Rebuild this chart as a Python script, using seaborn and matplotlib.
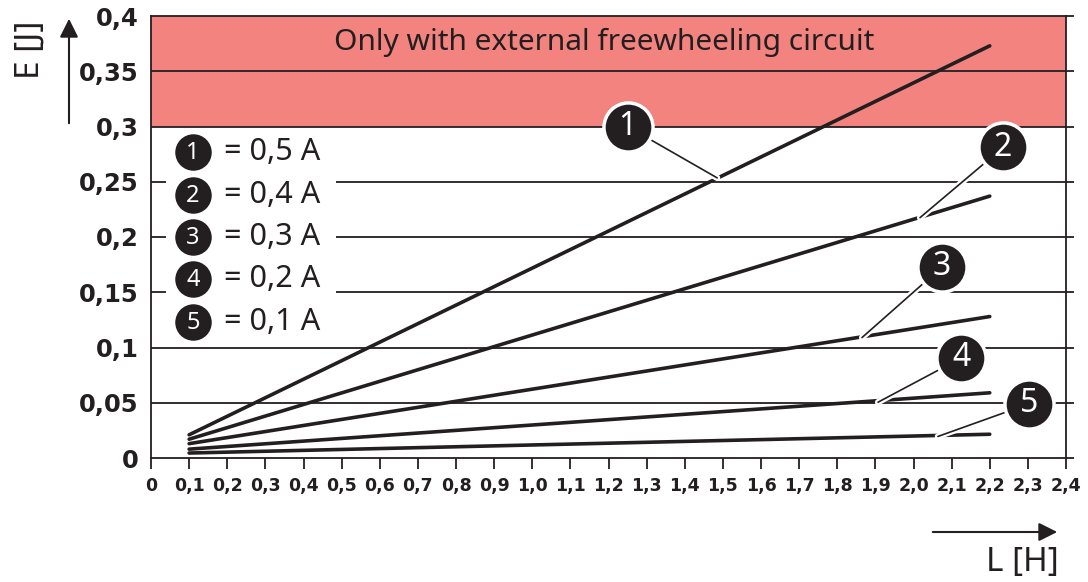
import matplotlib
matplotlib.use("Agg")
import matplotlib.pyplot as plt
import matplotlib.patheffects as pe
from matplotlib.patches import Rectangle, FancyArrowPatch
import seaborn as sns
import pandas as pd

# data
inductance = [0.1, 2.2]
curve_ids = ["1", "2", "3", "4", "5"]
currents = ["0,5 A", "0,4 A", "0,3 A", "0,2 A", "0,1 A"]
energy = {
    "1": [0.021, 0.373],
    "2": [0.017, 0.237],
    "3": [0.013, 0.128],
    "4": [0.008, 0.059],
    "5": [0.0045, 0.0215],
}
x_ticks = [i / 10 for i in range(25)]
x_labels = ["0"] + [f"{v:.1f}".replace(".", ",") for v in x_ticks[1:]]
y_ticks = [0, 0.05, 0.1, 0.15, 0.2, 0.25, 0.3, 0.35, 0.4]
y_labels = ["0", "0,05", "0,1", "0,15", "0,2", "0,25", "0,3", "0,35", "0,4"]

# callouts: (circle pos, point on curve)
callouts = {
    "1": ((1.25, 0.300), (1.485, 0.2535)),
    "2": ((2.235, 0.281), (2.017, 0.2175)),
    "3": ((2.075, 0.173), (1.865, 0.109)),
    "4": ((2.125, 0.0905), (1.907, 0.0505)),
    "5": ((2.303, 0.049), (2.064, 0.0195)),
}

rows = []
for cid in curve_ids:
    for L, E in zip(inductance, energy[cid]):
        rows.append({"curve": cid, "L": L, "E": E})
df = pd.DataFrame(rows)

sns.set_style("white")
plt.rcParams["font.family"] = ["Noto Sans", "DejaVu Sans"]

dark = "#231f20"
fig = plt.figure(figsize=(10.88, 5.82), dpi=100)
ax = fig.add_axes([151 / 1088, 124 / 582, 915 / 1088, 442 / 582])

ax.axhspan(0.3, 0.4, color="#f2837f", zorder=0, lw=0)
for y in y_ticks[1:-1]:
    ax.axhline(y, color=dark, lw=1.3, zorder=1)

sns.lineplot(data=df, x="L", y="E", hue="curve", palette=[dark] * 5,
             lw=2.6, legend=False, ax=ax, zorder=3)

ax.set_xlim(0, 2.4)
ax.set_ylim(0, 0.4)
ax.set_xticks(x_ticks)
ax.set_xticklabels(x_labels, fontsize=12.5, fontweight="bold",
                   family="DejaVu Sans")
ax.set_yticks(y_ticks)
ax.set_yticklabels(y_labels, fontsize=17.5, fontweight="bold",
                   family="DejaVu Sans")
ax.tick_params(axis="x", bottom=True, direction="out", length=8, width=1.3,
               color=dark, pad=6, labelcolor=dark)
ax.tick_params(axis="y", left=False, right=True, direction="out", length=6,
               width=1.3, color=dark, pad=3, labelcolor=dark)
ax.set_xlabel("")
ax.set_ylabel("")
for s in ax.spines.values():
    s.set_visible(True)
    s.set_color(dark)
    s.set_linewidth(1.3)

ax.text(1.19, 0.3765, "Only with external freewheeling circuit", ha="center",
        va="center", fontsize=21.5, color=dark, zorder=4)

# legend box
ax.add_patch(Rectangle((15 / 915, 118 / 442), 170 / 915, 207 / 442,
                       transform=ax.transAxes, facecolor="white",
                       edgecolor="none", zorder=2))
leg_y = [152, 195, 237, 279, 322]
for cid, cur, py in zip(curve_ids, currents, leg_y):
    yf = 1 - py / 582
    ax.scatter([193 / 1088], [yf], s=690, color=dark, lw=0,
               transform=fig.transFigure, clip_on=False, zorder=5)
    fig.text(193 / 1088, yf - 0.001, cid, ha="center", va="center",
             fontsize=17, color="white", zorder=6)
    fig.text(224 / 1088, yf, "= " + cur, ha="left", va="center",
             fontsize=22, color=dark)

# callouts
for cid in curve_ids:
    (cx, cy), (px, py) = callouts[cid]
    ax.plot([cx, px], [cy, py], color=dark, lw=1.2, zorder=4,
            path_effects=[pe.Stroke(linewidth=4.5, foreground="white"),
                          pe.Normal()])
    ax.scatter([cx], [cy], s=1250, color=dark, edgecolors="white",
               linewidths=2.5, zorder=5)
    ax.text(cx, cy, cid, ha="center", va="center", fontsize=23,
            color="white", zorder=6)

# axis arrows
fig.add_artist(FancyArrowPatch(
    (69 / 1088, 1 - 126 / 582), (69 / 1088, 1 - 16 / 582),
    transform=fig.transFigure, arrowstyle="-|>", mutation_scale=28,
    color=dark, lw=1.5))
fig.add_artist(FancyArrowPatch(
    (930 / 1088, 1 - 532 / 582), (1060 / 1088, 1 - 532 / 582),
    transform=fig.transFigure, arrowstyle="-|>", mutation_scale=28,
    color=dark, lw=1.5))
fig.text(30 / 1088, 1 - 50 / 582, "E [J]", rotation=90, ha="center",
         va="center", fontsize=24, color=dark)
fig.text(1022 / 1088, 1 - 563 / 582, "L [H]", ha="center", va="center",
         fontsize=24, color=dark)

fig.savefig("out.png", dpi=100)
